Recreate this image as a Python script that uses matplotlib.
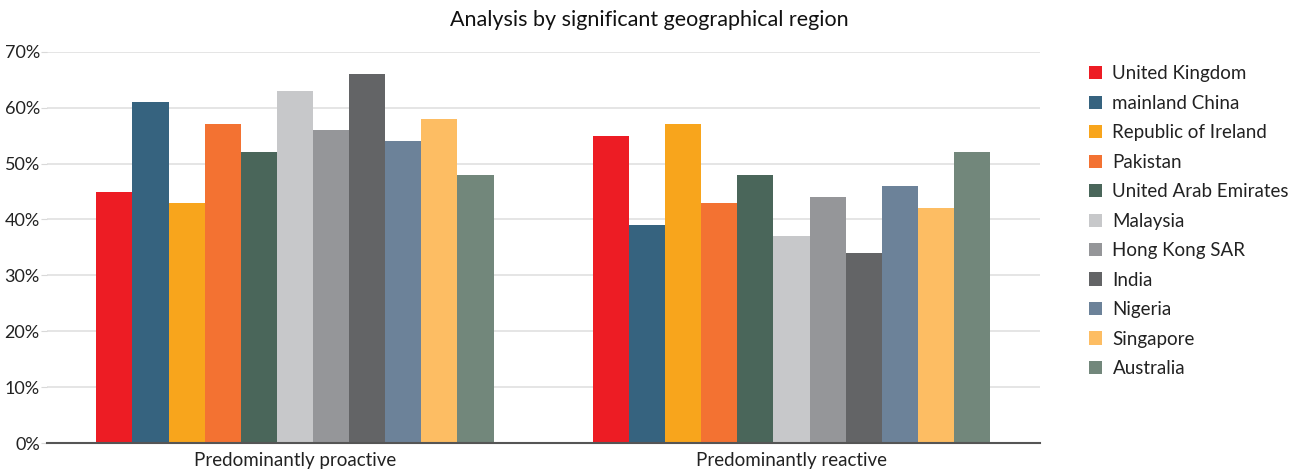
import numpy as np
import matplotlib
matplotlib.use('Agg')
import matplotlib.pyplot as plt
from matplotlib.ticker import FuncFormatter

# === Data ===
categories = ['Predominantly proactive', 'Predominantly reactive']
regions = ['United Kingdom', 'mainland China', 'Republic of Ireland', 'Pakistan',
           'United Arab Emirates', 'Malaysia', 'Hong Kong SAR', 'India',
           'Nigeria', 'Singapore', 'Australia']
proactive = [45, 61, 43, 57, 52, 63, 56, 66, 54, 58, 48]
reactive = [55, 39, 57, 43, 48, 37, 44, 34, 46, 42, 52]
colors = ['#ED1C24', '#36637F', '#F8A51C', '#F37232', '#4A665A', '#C7C8CA',
          '#959699', '#636466', '#6C8299', '#FDBD63', '#72877B']

plt.rcParams['font.family'] = ['Lato', 'DejaVu Sans']

fig = plt.figure(figsize=(12.98, 4.70), dpi=100)
ax = fig.add_axes([0.036, 0.057, 0.765, 0.833])

n = len(regions)
group_w = 0.80
bw = group_w / n
x = np.arange(len(categories))
for i, (name, col) in enumerate(zip(regions, colors)):
    vals = [proactive[i], reactive[i]]
    ax.bar(x - group_w / 2 + bw * (i + 0.5), vals, width=bw, color=col,
           label=name, zorder=3)

ax.set_xlim(-0.5, 1.5)
ax.set_ylim(0, 70)
ax.set_yticks(range(0, 71, 10))
ax.yaxis.set_major_formatter(FuncFormatter(lambda v, p: f'{int(v)}%'))
ax.set_xticks(x)
ax.set_xticklabels(categories, fontsize=13.5, color='#222222')
ax.tick_params(axis='x', length=0, pad=6)
ax.tick_params(axis='y', length=4, color='#D9D9D9', labelsize=13,
               labelcolor='#222222', pad=1)
ax.grid(axis='y', color='#E0E0E0', linewidth=1.2, zorder=0)
for s in ['top', 'right', 'left']:
    ax.spines[s].set_visible(False)
ax.spines['bottom'].set_color('#555555')
ax.spines['bottom'].set_linewidth(1.5)
ax.spines['bottom'].set_zorder(4)

# title is centred on the whole figure, not on the plot area
fig.text(0.5, 0.957, 'Analysis by significant geographical region',
         fontsize=15.5, color='#111111', ha='center', va='center')

leg = fig.legend(loc='upper left', bbox_to_anchor=(0.826, 0.897), frameon=False,
                 fontsize=13.5, handlelength=0.7, handleheight=0.7,
                 handletextpad=0.55, labelspacing=0.665, labelcolor='#222222')

fig.savefig('out.png', dpi=100, facecolor='white')
